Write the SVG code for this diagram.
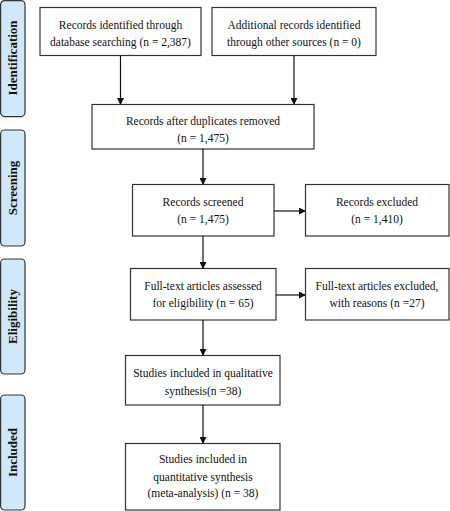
<svg xmlns="http://www.w3.org/2000/svg" width="450" height="511" viewBox="0 0 450 511">
<defs>
<marker id="ah" markerWidth="7" markerHeight="7" refX="6" refY="3.5" orient="auto" markerUnits="userSpaceOnUse">
<path d="M0,0 L7,3.5 L0,7 Z" fill="#111"/>
</marker>
<style>
.box{fill:#fff;stroke:#333;stroke-width:1.2}
.lab{fill:#cfe8fa;stroke:#333;stroke-width:1.2}
.t{font-family:"Liberation Serif","Times New Roman",serif;font-size:11.5px;fill:#111;text-anchor:middle}
.lt{font-family:"Liberation Serif","Times New Roman",serif;font-size:13px;font-weight:bold;fill:#111;text-anchor:middle}
.c{stroke:#111;stroke-width:1.2;fill:none;marker-end:url(#ah)}
</style>
</defs>
<rect width="450" height="511" fill="#fff"/>
<g id="lab-identification"><rect class="lab" x="0.6" y="0.6" width="24.4" height="116" rx="4"/><text class="lt" transform="translate(17,58) rotate(-90)">Identification</text></g>
<g id="lab-screening"><rect class="lab" x="0.6" y="130" width="24.4" height="116" rx="4"/><text class="lt" transform="translate(17,188) rotate(-90)">Screening</text></g>
<g id="lab-eligibility"><rect class="lab" x="0.6" y="259" width="24.4" height="115" rx="4"/><text class="lt" transform="translate(17,316.5) rotate(-90)">Eligibility</text></g>
<g id="lab-included"><rect class="lab" x="0.6" y="395" width="24.4" height="115" rx="4"/><text class="lt" transform="translate(17,452.5) rotate(-90)">Included</text></g>

<g id="n1"><rect class="box" x="40" y="7.5" width="161" height="48"/><text class="t" x="120.5" y="29">Records identified through</text><text class="t" x="120.5" y="46">database searching (n = 2,387)</text></g>
<g id="n2"><rect class="box" x="212" y="7.5" width="164" height="48"/><text class="t" x="294" y="29">Additional records identified</text><text class="t" x="294" y="46">through other sources (n = 0)</text></g>
<g id="n3"><rect class="box" x="92" y="104.5" width="222" height="44.5"/><text class="t" x="203" y="125">Records after duplicates removed</text><text class="t" x="203" y="142">(n = 1,475)</text></g>
<g id="n4"><rect class="box" x="132.5" y="184.5" width="141.5" height="51.5"/><text class="t" x="203" y="206">Records screened</text><text class="t" x="203" y="223">(n = 1,475)</text></g>
<g id="n5"><rect class="box" x="305.5" y="184.5" width="143.5" height="51.5"/><text class="t" x="377" y="206">Records excluded</text><text class="t" x="377" y="223">(n = 1,410)</text></g>
<g id="n6"><rect class="box" x="130.5" y="268.5" width="145.5" height="51.5"/><text class="t" x="203" y="290">Full-text articles assessed</text><text class="t" x="203" y="307">for eligibility (n = 65)</text></g>
<g id="n7"><rect class="box" x="305.5" y="268.5" width="143.5" height="51.5"/><text class="t" x="377" y="290">Full-text articles excluded,</text><text class="t" x="377" y="307">with reasons (n =27)</text></g>
<g id="n8"><rect class="box" x="125.5" y="355.5" width="154.5" height="49.5"/><text class="t" x="203" y="377">Studies included in qualitative</text><text class="t" x="203" y="395">synthesis(n =38)</text></g>
<g id="n9"><rect class="box" x="125.5" y="443.5" width="154.5" height="66.5"/><text class="t" x="203" y="463">Studies included in</text><text class="t" x="203" y="481">quantitative synthesis</text><text class="t" x="203" y="497">(meta-analysis) (n = 38)</text></g>

<g id="connectors">
<line class="c" x1="120.5" y1="55.5" x2="120.5" y2="104"/>
<line class="c" x1="294" y1="55.5" x2="294" y2="104"/>
<line class="c" x1="203" y1="149" x2="203" y2="184"/>
<line class="c" x1="274" y1="211" x2="305" y2="211"/>
<line class="c" x1="203" y1="236" x2="203" y2="268"/>
<line class="c" x1="276" y1="295" x2="305" y2="295"/>
<line class="c" x1="203" y1="320" x2="203" y2="355"/>
<line class="c" x1="203" y1="405" x2="203" y2="443"/>
</g>
</svg>
